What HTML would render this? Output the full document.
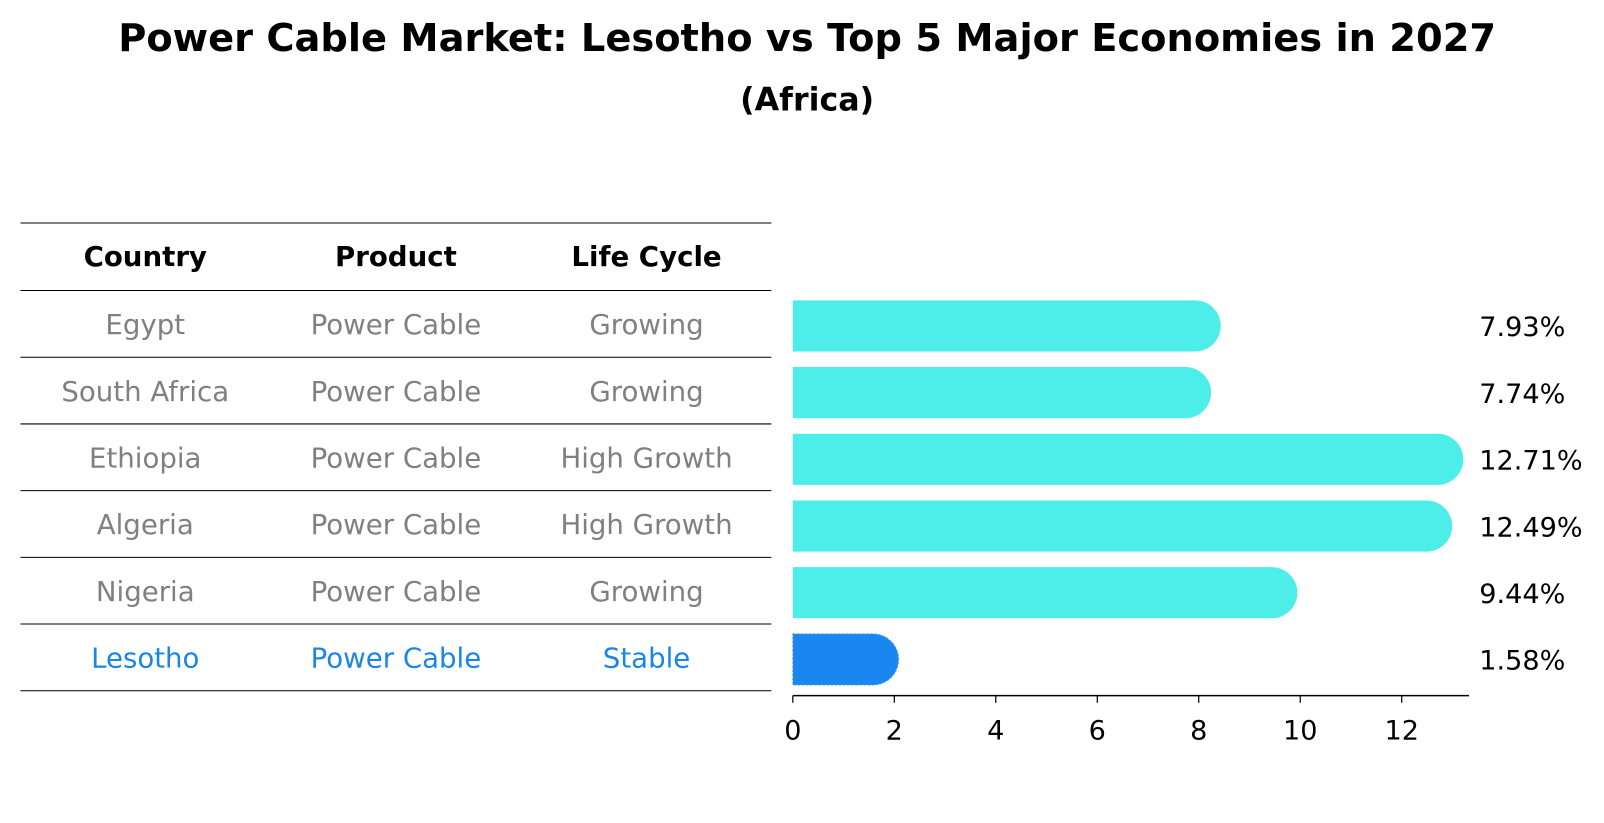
<!DOCTYPE html>
<html><head><meta charset="utf-8"><style>
html,body{margin:0;padding:0;background:#fff;}
svg{display:block;font-family:"DejaVu Sans","Liberation Sans",sans-serif;}
</style></head><body>
<svg id="chart" width="1604" height="823" viewBox="0 0 1604 823" xmlns="http://www.w3.org/2000/svg">
<g transform="scale(1.023)">
<text x="789" y="50" text-anchor="middle" font-size="37.5" font-weight="bold">Power Cable Market: Lesotho vs Top 5 Major Economies in 2027</text>
<text x="789" y="108" text-anchor="middle" font-size="31" font-weight="bold">(Africa)</text>
<g id="table"></g>
<g id="bars"></g>
</g>
</svg>
<script>
const countries = ["Egypt","South Africa","Ethiopia","Algeria","Nigeria","Lesotho"];
const products = ["Power Cable","Power Cable","Power Cable","Power Cable","Power Cable","Power Cable"];
const lifeCycles = ["Growing","Growing","High Growth","High Growth","Growing","Stable"];
const values = [7.93,7.74,12.71,12.49,9.44,1.58];
const xTicks = [0,2,4,6,8,10,12];

const NS="http://www.w3.org/2000/svg";
function mk(tag,attrs,parent){const e=document.createElementNS(NS,tag);for(const k in attrs)e.setAttribute(k,attrs[k]);parent.appendChild(e);return e;}
const x0=775, pxPerUnit=49.6;
function xs(v){return x0+v*pxPerUnit;}
const rowTop=284, rowH=65.2;
function yc(i){return rowTop+rowH*i+rowH/2;}
const FS=27;

const tbl=document.getElementById('table');
const colX=[142,387,632];
const heads=["Country","Product","Life Cycle"];
heads.forEach((h,j)=>{const t=mk('text',{x:colX[j],y:260,'text-anchor':'middle','font-size':FS,'font-weight':'bold'},tbl);t.textContent=h;

});
for(let i=0;i<=countries.length+1;i++){
  const y=i===0?218:rowTop+rowH*(i-1);
  const l=mk('line',{x1:20,x2:754,y1:y,y2:y,stroke:'#000','stroke-width':'1'},tbl);
  
  
}
countries.forEach((c,i)=>{
  const col=c==="Lesotho"?"#1a86e8":"#808080";
  [c,products[i],lifeCycles[i]].forEach((txt,j)=>{
    const t=mk('text',{x:colX[j],y:yc(i)+10,'text-anchor':'middle','font-size':FS,fill:col},tbl);
    t.textContent=txt;
    
    
  });
});

const bg=document.getElementById('bars');
const bh=50, r=25;
values.forEach((v,i)=>{
  const isL=countries[i]==="Lesotho";
  const col=isL?"#1a86f0":"#4deeea";
  const y=yc(i)-bh/2 + 2;
  const xe=xs(v);
  const p=mk('path',{d:`M${x0},${y} H${xe} A${r},${r} 0 0 1 ${xe},${y+bh} H${x0} Z`,fill:col},bg);
  if(isL){p.setAttribute('stroke','#4a9af5');p.setAttribute('stroke-dasharray','2 2');p.setAttribute('stroke-width','1');}
  
  
  const t=mk('text',{x:1446,y:yc(i)+12,'font-size':'26.5'},bg);
  t.textContent=v.toFixed(2)+'%';
  
  
});
const ax=mk('line',{x1:x0,x2:1436,y1:680,y2:680,stroke:'#000','stroke-width':'1.5'},bg);


xTicks.forEach(tv=>{
  const tl=mk('line',{x1:xs(tv),x2:xs(tv),y1:680,y2:687,stroke:'#000','stroke-width':'1.2'},bg);
  
  
  const t=mk('text',{x:xs(tv),y:723,'text-anchor':'middle','font-size':'26.5'},bg);
  t.textContent=tv;
  
  
});
</script>
</body></html>
